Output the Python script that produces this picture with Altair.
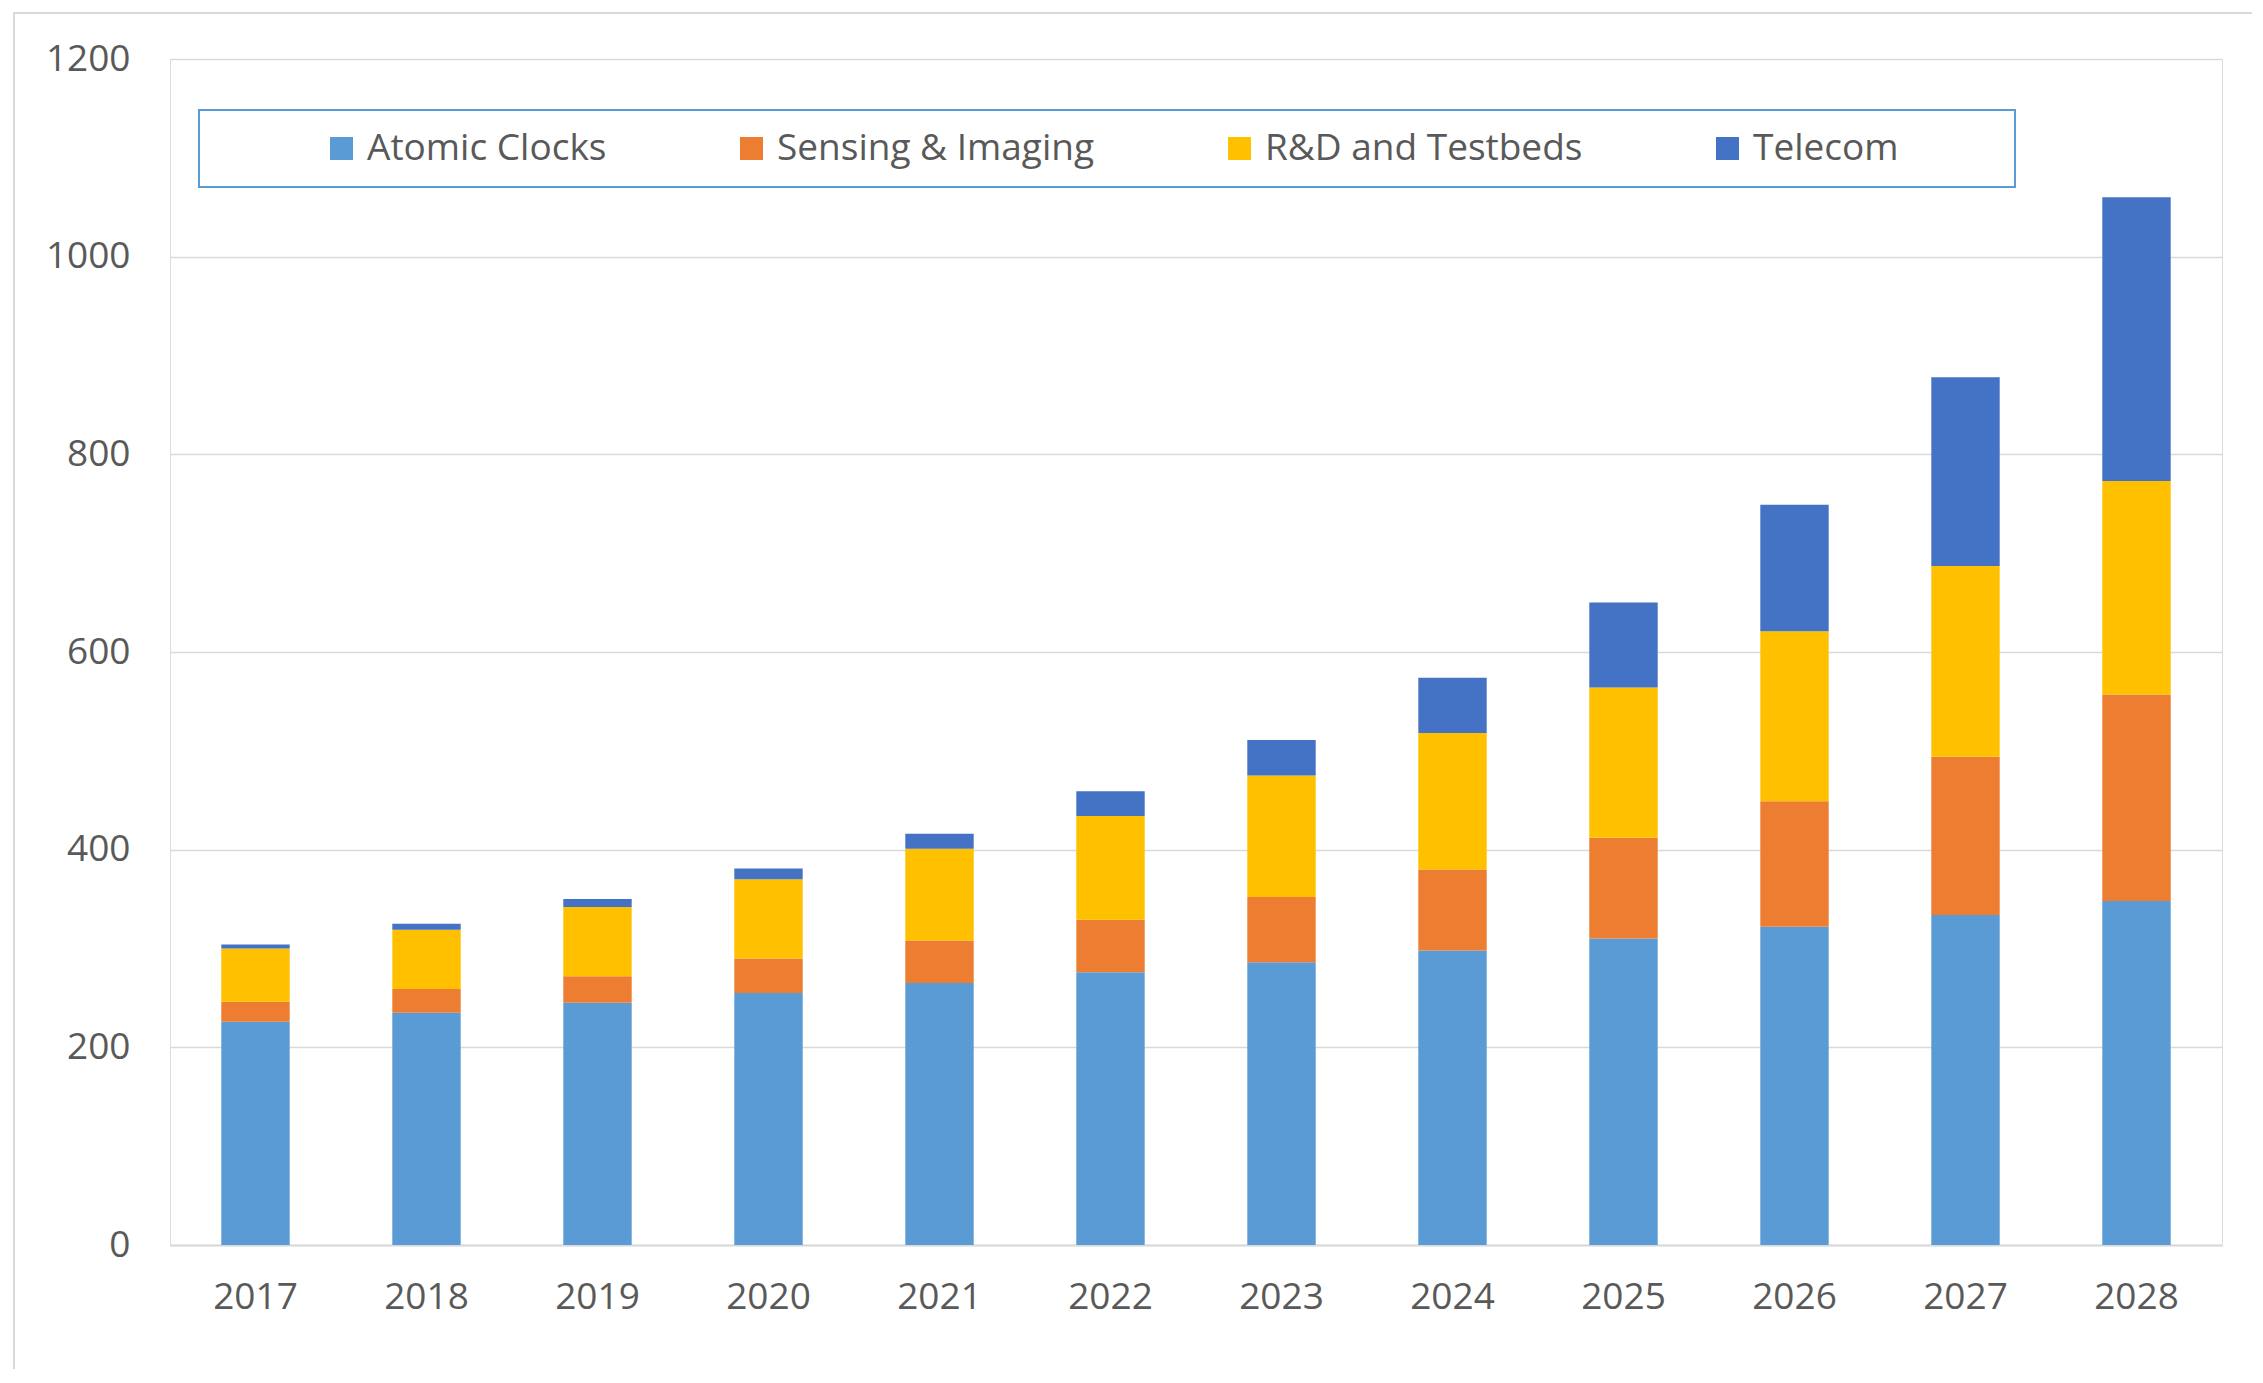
import altair as alt
import pandas as pd

years = ["2017", "2018", "2019", "2020", "2021", "2022", "2023", "2024", "2025", "2026", "2027", "2028"]
segments = ["Atomic Clocks", "Sensing & Imaging", "R&D and Testbeds", "Telecom"]
colors = ["#5B9BD5", "#ED7D31", "#FFC000", "#4472C4"]

atomic = [226, 235, 245, 255, 265, 276, 286, 298, 310, 322, 334, 348]
sensing = [20, 24, 27, 35, 43, 53, 66, 82, 102, 127, 160, 209]
rnd = [54, 60, 70, 80, 93, 105, 123, 138, 152, 172, 193, 216]
telecom = [4, 6, 8, 11, 15, 25, 36, 56, 86, 128, 191, 287]
y_ticks = [0, 200, 400, 600, 800, 1000, 1200]

series = [atomic, sensing, rnd, telecom]
rows = []
for si, (seg, vals) in enumerate(zip(segments, series)):
    for yr, v in zip(years, vals):
        rows.append({"Year": yr, "Segment": seg, "Value": v, "ord": si})
df = pd.DataFrame(rows)

FONT = "Open Sans"
FS = 37
TEXT = "#595959"
GRID = "#D9D9D9"

bars = alt.Chart(df).mark_bar().encode(
    x=alt.X(
        "Year:N",
        sort=years,
        scale=alt.Scale(paddingInner=0.6, paddingOuter=0.3),
        axis=alt.Axis(
            title=None, labelAngle=0, labelFontSize=FS, labelColor=TEXT, labelFont=FONT,
            labelPadding=34, ticks=False, domain=True, domainColor=GRID, domainWidth=2,
        ),
    ),
    y=alt.Y(
        "Value:Q",
        stack="zero",
        scale=alt.Scale(domain=[0, 1200], nice=False),
        axis=alt.Axis(
            title=None, values=y_ticks, format="d", labelFontSize=FS, labelColor=TEXT,
            labelFont=FONT, labelPadding=40, ticks=False, domain=False, grid=True,
            gridColor=GRID, gridWidth=1.5,
        ),
    ),
    color=alt.Color(
        "Segment:N",
        scale=alt.Scale(domain=segments, range=colors),
        legend=alt.Legend(
            title=None, orient="none", legendX=153, legendY=71, direction="horizontal",
            columns=4, gridAlign="none", columnPadding=126, symbolType="square",
            symbolSize=529, symbolStrokeWidth=0, labelFontSize=FS, labelColor=TEXT,
            labelFont=FONT, labelOffset=7, padding=0, labelLimit=600,
        ),
    ),
    order=alt.Order("ord:Q", sort="ascending"),
)

one = pd.DataFrame({"k": [0]})

legend_box = alt.Chart(one).mark_rect(fill="white", stroke="#5B9BD5", strokeWidth=2).encode(
    x=alt.value(29), x2=alt.value(1845), y=alt.value(51), y2=alt.value(128)
)

frame = alt.Chart(one).mark_rect(filled=False, stroke=GRID, strokeWidth=2).encode(
    x=alt.value(-156), x2=alt.value(2200), y=alt.value(-46), y2=alt.value(1400)
)

chart = alt.layer(frame, legend_box, bars).properties(
    width=2052,
    height=1186,
    autosize=alt.AutoSizeParams(type="none"),
    padding={"left": 162, "top": 51, "right": 30, "bottom": 124},
).configure_view(strokeWidth=0).configure(font=FONT, background="white")

chart.save("out.html", embed_options={"renderer": "svg", "actions": False})
